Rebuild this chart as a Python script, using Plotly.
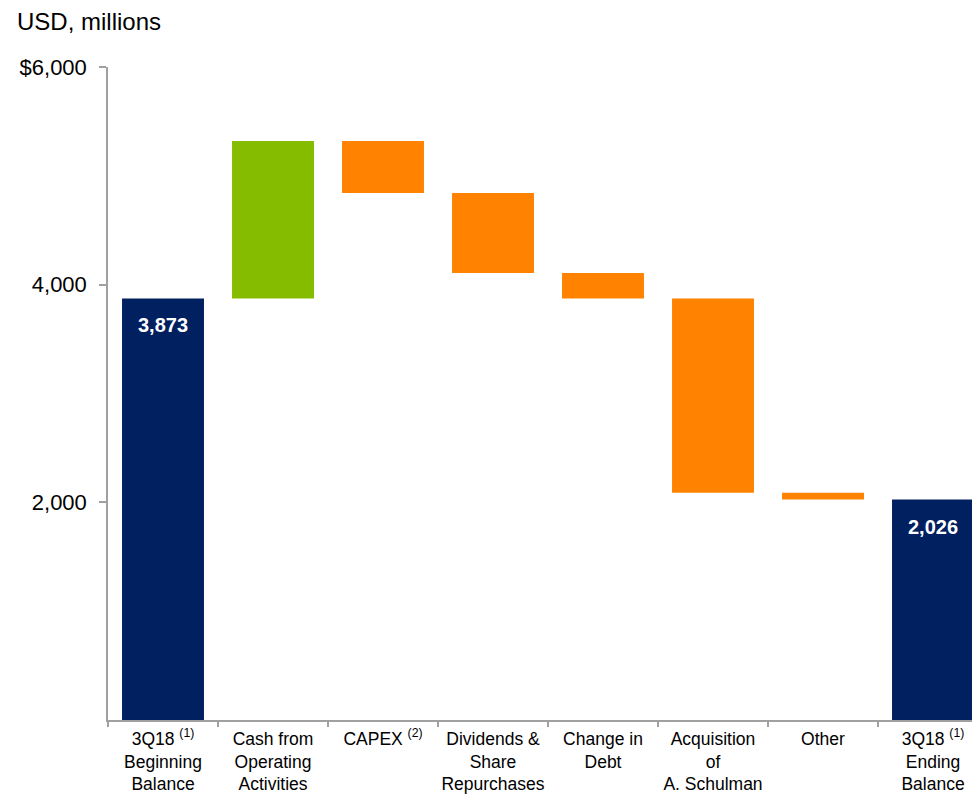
import plotly.graph_objects as go

categories = [
    "3Q18 <sup>(1)</sup><br>Beginning<br>Balance",
    "Cash from<br>Operating<br>Activities",
    "CAPEX <sup>(2)</sup><br> <br> ",
    "Dividends &<br>Share<br>Repurchases",
    "Change in<br>Debt<br> ",
    "Acquisition<br>of<br>A. Schulman",
    "Other<br> <br> ",
    "3Q18 <sup>(1)</sup><br>Ending<br>Balance",
]
measures = ["absolute", "relative", "relative", "relative", "relative", "relative", "relative", "total"]
values = [3873, 1446, -476, -735, -235, -1785, -62, 0]
balance_labels = {0: ("3,873", 3873), 7: ("2,026", 2026)}

ytick_vals = [2000, 4000, 6000]
ytick_text = ["2,000", "4,000", "$6,000"]

navy = "#002060"
green = "#86BC00"
orange = "#FF8300"
axis_grey = "#A0A0A0"

# the page body adds an 8px offset, margins account for it
L, T, B = 100, 59, 83

fig = go.Figure(go.Waterfall(
    x=categories,
    y=values,
    measure=measures,
    width=0.745,
    increasing=dict(marker=dict(color=green, line=dict(width=0))),
    decreasing=dict(marker=dict(color=orange, line=dict(width=0))),
    totals=dict(marker=dict(color=navy, line=dict(width=0))),
    connector=dict(visible=False),
    hoverinfo="skip",
))

# white value labels inside the balance bars
for i, (label, val) in balance_labels.items():
    fig.add_annotation(
        x=categories[i], y=val, text=label, showarrow=False,
        yanchor="top", yshift=-14,
        font=dict(family="Liberation Sans", size=20, color="white", weight="bold"),
    )

fig.add_annotation(
    text="USD, millions", xref="paper", yref="paper",
    x=(15 - 108) / 880, y=(720 - 21) / 653,
    xanchor="left", yanchor="middle", showarrow=False,
    font=dict(size=24, color="black"),
)

fig.update_layout(
    width=980,
    height=795,
    margin=dict(l=L, r=0, t=T, b=B),
    plot_bgcolor="white",
    paper_bgcolor="white",
    showlegend=False,
    font=dict(family="Liberation Sans", color="black"),
)

fig.update_yaxes(
    range=[0, 6000],
    tickvals=ytick_vals,
    ticktext=ytick_text,
    tickfont=dict(size=22),
    showgrid=False,
    zeroline=False,
    showline=True,
    linecolor=axis_grey,
    linewidth=1.5,
    ticks="outside",
    ticklen=7,
    tickcolor=axis_grey,
    tickwidth=1.5,
    ticklabelstandoff=8,
    automargin=False,
)

fig.update_xaxes(
    range=[-0.5, 7.5],
    tickson="boundaries",
    ticks="outside",
    ticklen=5,
    tickcolor=axis_grey,
    tickwidth=1.5,
    showline=True,
    linecolor=axis_grey,
    linewidth=1.5,
    showgrid=False,
    tickfont=dict(size=17.5),
    tickangle=0,
    ticklabelstandoff=2,
    automargin=False,
)

fig.write_html("out.html")
